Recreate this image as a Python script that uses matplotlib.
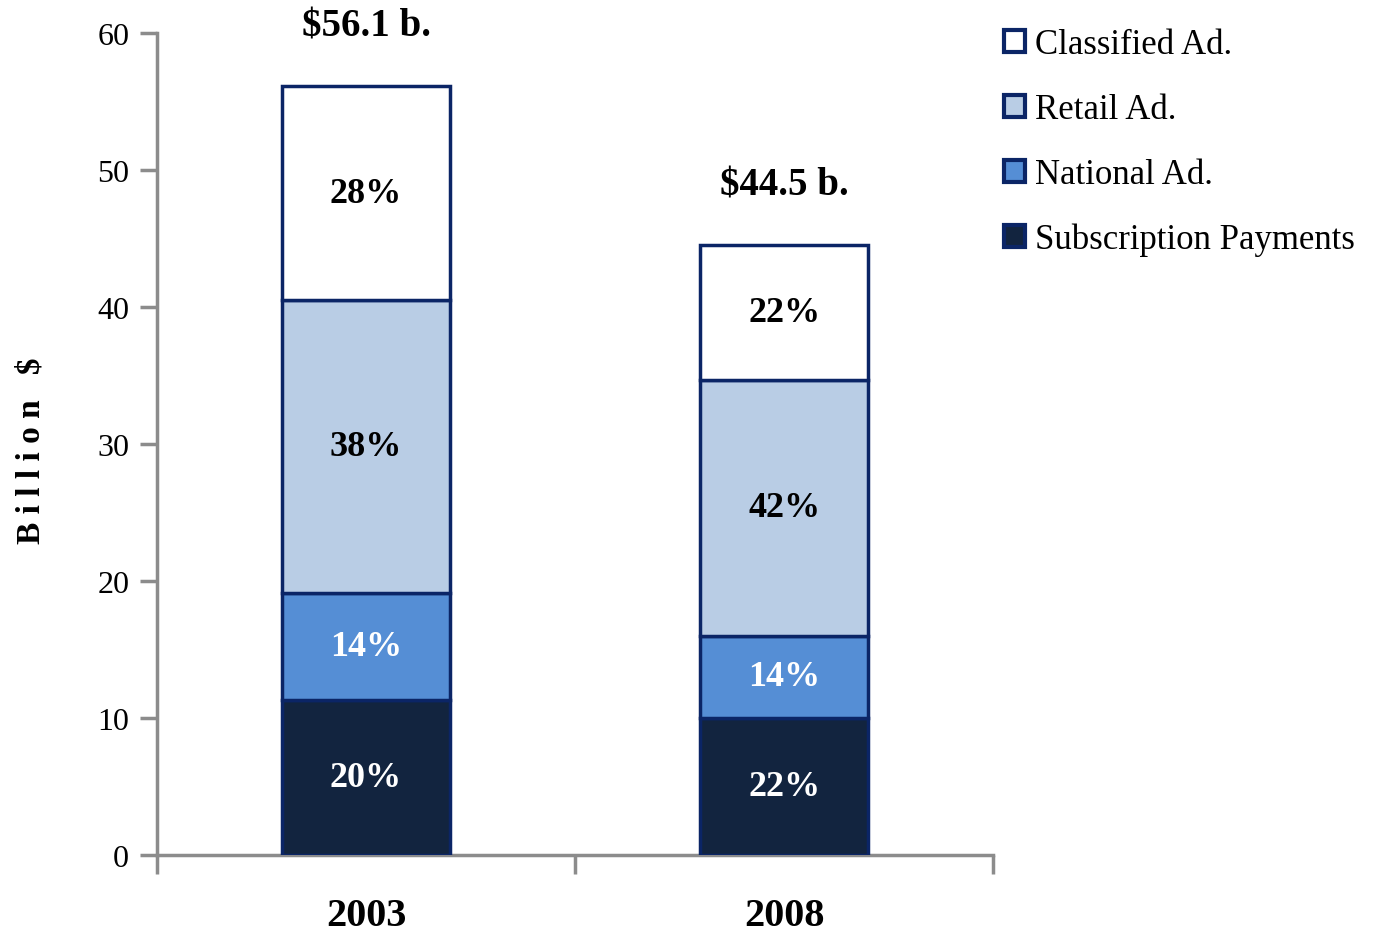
import numpy as np
import matplotlib
matplotlib.use('Agg')
import matplotlib.pyplot as plt

# Data
years = ['2003', '2008']
series = ['Subscription Payments', 'National Ad.', 'Retail Ad.', 'Classified Ad.']
values = {
    'Subscription Payments': [11.3, 10.0],
    'National Ad.': [7.8, 6.0],
    'Retail Ad.': [21.4, 18.7],
    'Classified Ad.': [15.6, 9.8],
}
pct_labels = {
    'Subscription Payments': ['20%', '22%'],
    'National Ad.': ['14%', '14%'],
    'Retail Ad.': ['38%', '42%'],
    'Classified Ad.': ['28%', '22%'],
}
totals = ['$56.1 b.', '$44.5 b.']

colors = {
    'Subscription Payments': '#12243f',
    'National Ad.': '#558ed5',
    'Retail Ad.': '#b9cde5',
    'Classified Ad.': '#ffffff',
}
text_colors = {
    'Subscription Payments': 'white',
    'National Ad.': 'white',
    'Retail Ad.': 'black',
    'Classified Ad.': 'black',
}
edge = '#0b2566'

plt.rcParams['font.family'] = ['Liberation Serif', 'DejaVu Serif']

fig = plt.figure(figsize=(13.87, 9.37), dpi=100)
ax = fig.add_axes([0.1132, 0.0865, 0.6028, 0.8772])

x = np.arange(len(years))
bottom = np.zeros(len(years))
handles = {}
for s in series:
    vals = np.array(values[s])
    bars = ax.bar(x, vals, width=0.4, bottom=bottom, color=colors[s],
                  edgecolor=edge, linewidth=2.5, label=s, zorder=3)
    handles[s] = bars
    for i, v in enumerate(vals):
        ax.text(x[i], bottom[i] + v / 2, pct_labels[s][i], ha='center', va='center',
                fontsize=26, fontweight='bold', color=text_colors[s], zorder=4)
    bottom += vals

# totals above each bar
for i, t in enumerate(totals):
    ax.text(x[i], bottom[i] + 4.4, t, ha='center', va='center',
            fontsize=28, fontweight='bold', color='black', clip_on=False)

ax.set_xlim(-0.5, 1.5)
ax.set_ylim(0, 60)
ax.set_yticks(range(0, 61, 10))
ax.tick_params(axis='y', labelsize=23, length=12, width=2.5, color='#8c8c8c', pad=8)
ax.set_xticks([-0.5, 0.5, 1.5])
ax.set_xticklabels([])
ax.tick_params(axis='x', length=14, width=2.5, color='#8c8c8c')
for i, yr in enumerate(years):
    ax.text(x[i], -4.4, yr, ha='center', va='center', fontsize=29,
            fontweight='bold', clip_on=False)

for side in ['top', 'right']:
    ax.spines[side].set_visible(False)
for side in ['left', 'bottom']:
    ax.spines[side].set_color('#8c8c8c')
    ax.spines[side].set_linewidth(2.5)

fig.text(0.022, 0.519, 'B i l l i o n   $', rotation=90, ha='center', va='center',
         fontsize=24, fontweight='bold')

leg_order = ['Classified Ad.', 'Retail Ad.', 'National Ad.', 'Subscription Payments']
leg = fig.legend([handles[s] for s in leg_order], leg_order, loc='upper left',
                 bbox_to_anchor=(0.724, 0.969), frameon=False, fontsize=25,
                 handlelength=0.6, handleheight=0.6, handletextpad=0.3,
                 labelspacing=0.92, borderaxespad=0, borderpad=0)
for h in leg.legend_handles:
    h.set_linewidth(3)

fig.savefig('out.png', dpi=100)
